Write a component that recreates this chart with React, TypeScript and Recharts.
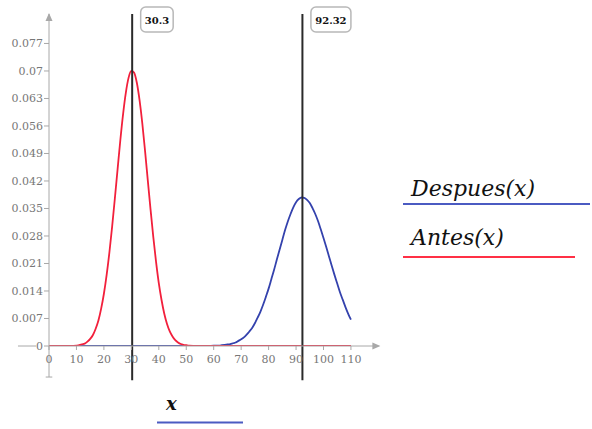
import React from "react";
import { LineChart, Line, XAxis, YAxis, ReferenceLine, ReferenceDot } from "recharts";

// Antes(x): red curve
const antesX = [0, 8, 10, 11, 12, 13, 14, 15, 16, 17, 18, 19, 20, 21, 22, 23, 24, 25, 26, 27, 28, 29, 30, 31, 32, 33, 34, 35, 36, 37, 38, 39, 40, 41, 42, 43, 44, 45, 46, 47, 48, 49, 50, 51, 54, 110];
const antesY = [0, 0, 0.0001, 0.0002, 0.0004, 0.0006, 0.0011, 0.0018, 0.0028, 0.0044, 0.0065, 0.0095, 0.0133, 0.0181, 0.0238, 0.0304, 0.0376, 0.0451, 0.0525, 0.0591, 0.0645, 0.0683, 0.07, 0.0696, 0.067, 0.0625, 0.0566, 0.0496, 0.0421, 0.0347, 0.0277, 0.0214, 0.016, 0.0117, 0.0082, 0.0056, 0.0037, 0.0024, 0.0015, 0.0009, 0.0005, 0.0003, 0.0002, 0.0001, 0, 0];

// Despues(x): blue curve
const despuesX = [0, 50, 58, 60, 61, 62, 63, 64, 65, 66, 67, 68, 69, 70, 71, 72, 73, 74, 75, 76, 77, 78, 79, 80, 81, 82, 83, 84, 85, 86, 87, 88, 89, 90, 91, 92, 93, 94, 95, 96, 97, 98, 99, 100, 101, 102, 103, 104, 105, 106, 107, 108, 109, 110];
const despuesY = [0, 0, 0, 0.0001, 0.0001, 0.0001, 0.0002, 0.0003, 0.0004, 0.0005, 0.0007, 0.0009, 0.0013, 0.0017, 0.0022, 0.0029, 0.0037, 0.0046, 0.0058, 0.0072, 0.0087, 0.0105, 0.0125, 0.0146, 0.017, 0.0194, 0.022, 0.0245, 0.027, 0.0295, 0.0317, 0.0336, 0.0353, 0.0366, 0.0374, 0.0378, 0.0377, 0.0372, 0.0364, 0.0351, 0.0336, 0.0318, 0.0297, 0.0275, 0.0252, 0.0228, 0.0204, 0.0181, 0.0159, 0.0137, 0.0118, 0.0099, 0.0082, 0.0067];

const xTicks = [0, 10, 20, 30, 40, 50, 60, 70, 80, 90, 100, 110];
const yTicks = [0, 0.007, 0.014, 0.021, 0.028, 0.035, 0.042, 0.049, 0.056, 0.063, 0.07, 0.077];

// vertical markers
const markers = [30.3, 92.32];

const antesData = antesX.map((x, i) => ({ x, y: antesY[i] }));
const despuesData = despuesX.map((x, i) => ({ x, y: despuesY[i] }));

const FONT = "'DejaVu Serif', serif";
const AXIS = "#a8a8a8";
const RED = "#f2203c";
const BLUE = "#3442ad";

const upArrow = (p: any) => (
  <polygon points={`${p.cx},${p.cy - 1} ${p.cx - 3.5},${p.cy + 7} ${p.cx + 3.5},${p.cy + 7}`} fill={AXIS} />
);
const rightArrow = (p: any) => (
  <polygon points={`${p.cx + 2},${p.cy} ${p.cx - 6},${p.cy - 3.5} ${p.cx - 6},${p.cy + 3.5}`} fill={AXIS} />
);
const markerLabel = (text: string, w: number) => (p: any) => (
  <g>
    <rect x={p.cx + 8.5} y={p.cy - 7} width={w} height={25} rx={5} ry={5} fill="#fff" stroke="#b8b8b8" strokeWidth={1.5} />
    <text x={p.cx + 8.5 + w / 2} y={p.cy + 9.5} textAnchor="middle" fontFamily={FONT} fontWeight="bold" fontSize={10} fill="#111">
      {text}
    </text>
  </g>
);

export default function App() {
  return (
    <div style={{ position: "absolute", left: 0, top: 0, width: 592, height: 429, background: "#fff" }}>
      <LineChart width={592} height={429} margin={{ top: 14, right: 213.6, left: 9, bottom: 53 }}>
        <XAxis
          type="number"
          dataKey="x"
          domain={[0, 120]}
          ticks={xTicks}
          interval={0}
          allowDataOverflow
          height={30}
          tickSize={4}
          tickMargin={5}
          stroke={AXIS}
          tick={{ fontSize: 11, fill: "#777", fontFamily: FONT }}
        />
        <YAxis
          type="number"
          dataKey="y"
          domain={[0, 0.0845]}
          ticks={yTicks}
          interval={0}
          allowDataOverflow
          width={40}
          tickSize={5}
          tickMargin={1}
          stroke={AXIS}
          tickFormatter={(v: number) => String(v)}
          tick={{ fontSize: 11, fill: "#777", fontFamily: FONT }}
        />
        <ReferenceLine segment={[{ x: -11.3, y: 0 }, { x: -4.7, y: 0 }]} stroke={AXIS} strokeWidth={1} ifOverflow="visible" />
        <ReferenceLine segment={[{ x: 0, y: 0 }, { x: 0, y: -0.0079 }]} stroke={AXIS} strokeWidth={1} ifOverflow="visible" />
        <ReferenceLine segment={[{ x: -1.2, y: -0.0079 }, { x: 1.2, y: -0.0079 }]} stroke={AXIS} strokeWidth={1} ifOverflow="visible" />
        <ReferenceDot x={0} y={0.0845} r={3} shape={upArrow} ifOverflow="visible" />
        <ReferenceDot x={120} y={0} r={3} shape={rightArrow} ifOverflow="visible" />
        <Line data={despuesData} dataKey="y" type="monotone" stroke={BLUE} strokeWidth={1.8} dot={false} isAnimationActive={false} />
        <Line data={antesData} dataKey="y" type="monotone" stroke={RED} strokeWidth={1.8} dot={false} isAnimationActive={false} />
        {markers.map((m) => (
          <ReferenceLine
            key={"l" + m}
            segment={[{ x: m, y: -0.0087 }, { x: m, y: 0.0845 }]}
            stroke="#2a2a2a"
            strokeWidth={2}
            ifOverflow="visible"
          />
        ))}
        <ReferenceDot x={markers[0]} y={0.0845} r={1} shape={markerLabel(String(markers[0]), 32.5)} ifOverflow="visible" />
        <ReferenceDot x={markers[1]} y={0.0845} r={1} shape={markerLabel(String(markers[1]), 40)} ifOverflow="visible" />
      </LineChart>
      <svg width={592} height={429} style={{ position: "absolute", left: 0, top: 0, pointerEvents: "none" }}>
        <text x={411} y={196} fontFamily={FONT} fontStyle="italic" fontSize={22} fill="#111">Despues(x)</text>
        <line x1={403} x2={590} y1={204} y2={204} stroke="#4b5bc2" strokeWidth={2} />
        <text x={411} y={245} fontFamily={FONT} fontStyle="italic" fontSize={22} fill="#111">Antes(x)</text>
        <line x1={403} x2={575} y1={257} y2={257} stroke="#ff3045" strokeWidth={2} />
        <text x={166} y={410} fontFamily={FONT} fontStyle="italic" fontWeight="bold" fontSize={18} fill="#111">x</text>
        <line x1={157} x2={243} y1={422.5} y2={422.5} stroke="#4b5bc2" strokeWidth={2} />
      </svg>
    </div>
  );
}
